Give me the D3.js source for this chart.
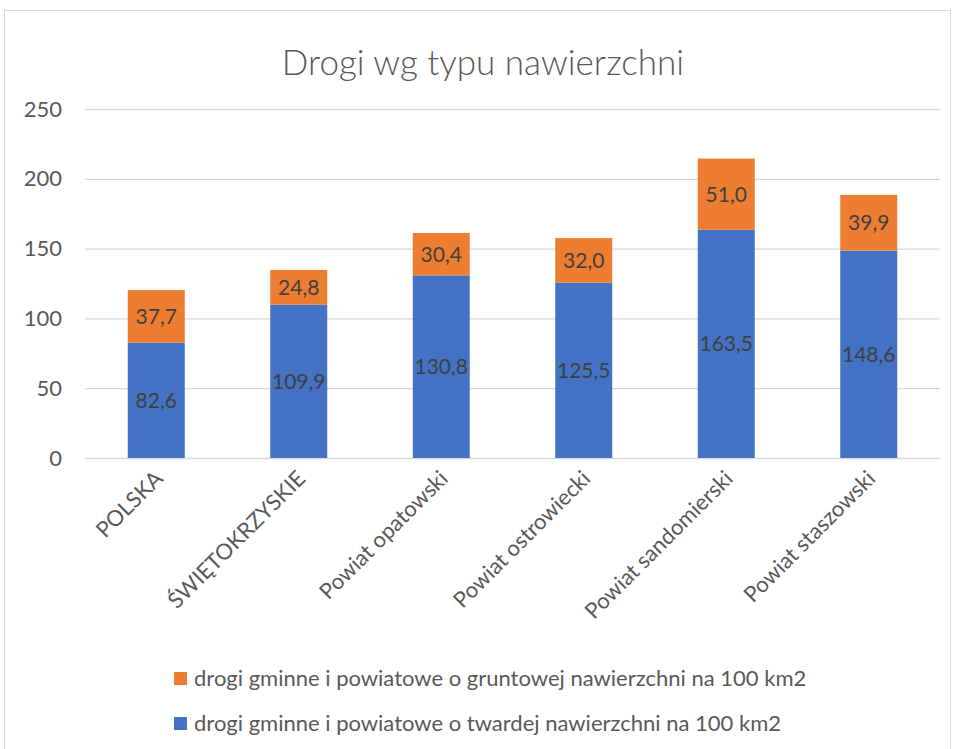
<!DOCTYPE html>
<html>
<head>
<meta charset="utf-8">
<script src="https://cdn.jsdelivr.net/npm/d3@7"></script>
<style>
  body { margin: 0; background: #fff; }
  svg { display: block; font-family: Lato, "Open Sans", sans-serif; }
</style>
</head>
<body>
<svg id="chart" width="956" height="749"></svg>
<script>
// dane z wykresu
const categories = ["POLSKA", "ŚWIĘTOKRZYSKIE", "Powiat opatowski", "Powiat ostrowiecki", "Powiat sandomierski", "Powiat staszowski"];
const twarde = [82.6, 109.9, 130.8, 125.5, 163.5, 148.6];
const gruntowe = [37.7, 24.8, 30.4, 32.0, 51.0, 39.9];
const seriesNames = [
    "drogi gminne i powiatowe o gruntowej nawierzchni na 100 km2",
    "drogi gminne i powiatowe o twardej nawierzchni na 100 km2"
];
const yTicks = [0, 50, 100, 150, 200, 250];

const svg = d3.select("#chart");

// ramka wykresu
svg.append("rect")
    .attr("x", 4.5).attr("y", 10.5)
    .attr("width", 946).attr("height", 760)
    .attr("fill", "#fff")
    .attr("stroke", "#d9d9d9");

const plotLeft = 85, plotRight = 940, plotTop = 109, plotBottom = 458;

const x = d3.scaleBand().domain(categories).range([plotLeft, plotRight]).paddingInner(0.6).paddingOuter(0.3);
const y = d3.scaleLinear().domain([0, 250]).range([plotBottom, plotTop]);

// tytul
svg.append("text")
    .attr("x", 483).attr("y", 75)
    .attr("text-anchor", "middle")
    .attr("font-size", 35).attr("font-weight", 300)
    .attr("fill", "#595959")
    .text("Drogi wg typu nawierzchni");

// siatka + os Y
const yAxis = svg.append("g")
    .attr("transform", `translate(${plotLeft},0)`)
    .call(d3.axisLeft(y).tickValues(yTicks).tickSize(-(plotRight - plotLeft)).tickPadding(23));
yAxis.select(".domain").remove();
yAxis.selectAll("line").attr("stroke", "#d9d9d9").attr("stroke-width", 1.3);
yAxis.selectAll("text").attr("font-size", 22).attr("fill", "#595959").attr("font-family", "Lato");

// dane do stosu
const rows = categories.map((c, i) => ({ cat: c, twarde: twarde[i], gruntowe: gruntowe[i] }));
const stack = d3.stack().keys(["twarde", "gruntowe"])(rows);
const colors = { twarde: "#4472c4", gruntowe: "#ed7d31" };

const layers = svg.selectAll(".layer")
    .data(stack)
    .join("g")
    .attr("class", "layer")
    .attr("fill", d => colors[d.key]);

layers.selectAll("rect")
    .data(d => d)
    .join("rect")
    .attr("x", d => x(d.data.cat))
    .attr("y", d => y(d[1]))
    .attr("width", x.bandwidth())
    .attr("height", d => y(d[0]) - y(d[1]));

// etykiety wartosci
layers.selectAll("text")
    .data(d => d)
    .join("text")
    .attr("x", d => x(d.data.cat) + x.bandwidth() / 2)
    .attr("y", d => (y(d[0]) + y(d[1])) / 2)
    .attr("dy", "0.35em")
    .attr("text-anchor", "middle")
    .attr("font-size", 21)
    .attr("fill", "#404040")
    .text(d => (d[1] - d[0]).toFixed(1).replace(".", ","));

// os X (etykiety pod katem)
svg.append("g")
    .selectAll("text")
    .data(categories)
    .join("text")
    .attr("transform", d => `translate(${x(d) + x.bandwidth() / 2 + 8},${plotBottom + 22}) rotate(-45)`)
    .attr("text-anchor", "end")
    .attr("font-size", 22)
    .attr("fill", "#595959")
    .text(d => d);

// legenda
const legend = svg.append("g")
    .selectAll("g")
    .data([{ name: seriesNames[0], color: colors.gruntowe }, { name: seriesNames[1], color: colors.twarde }])
    .join("g")
    .attr("transform", (d, i) => `translate(174,${672 + i * 45})`);
legend.append("rect").attr("width", 13).attr("height", 13).attr("fill", d => d.color);
legend.append("text")
    .attr("x", 20).attr("y", 14)
    .attr("font-size", 22)
    .attr("fill", "#595959")
    .text(d => d.name);
</script>
</body>
</html>
